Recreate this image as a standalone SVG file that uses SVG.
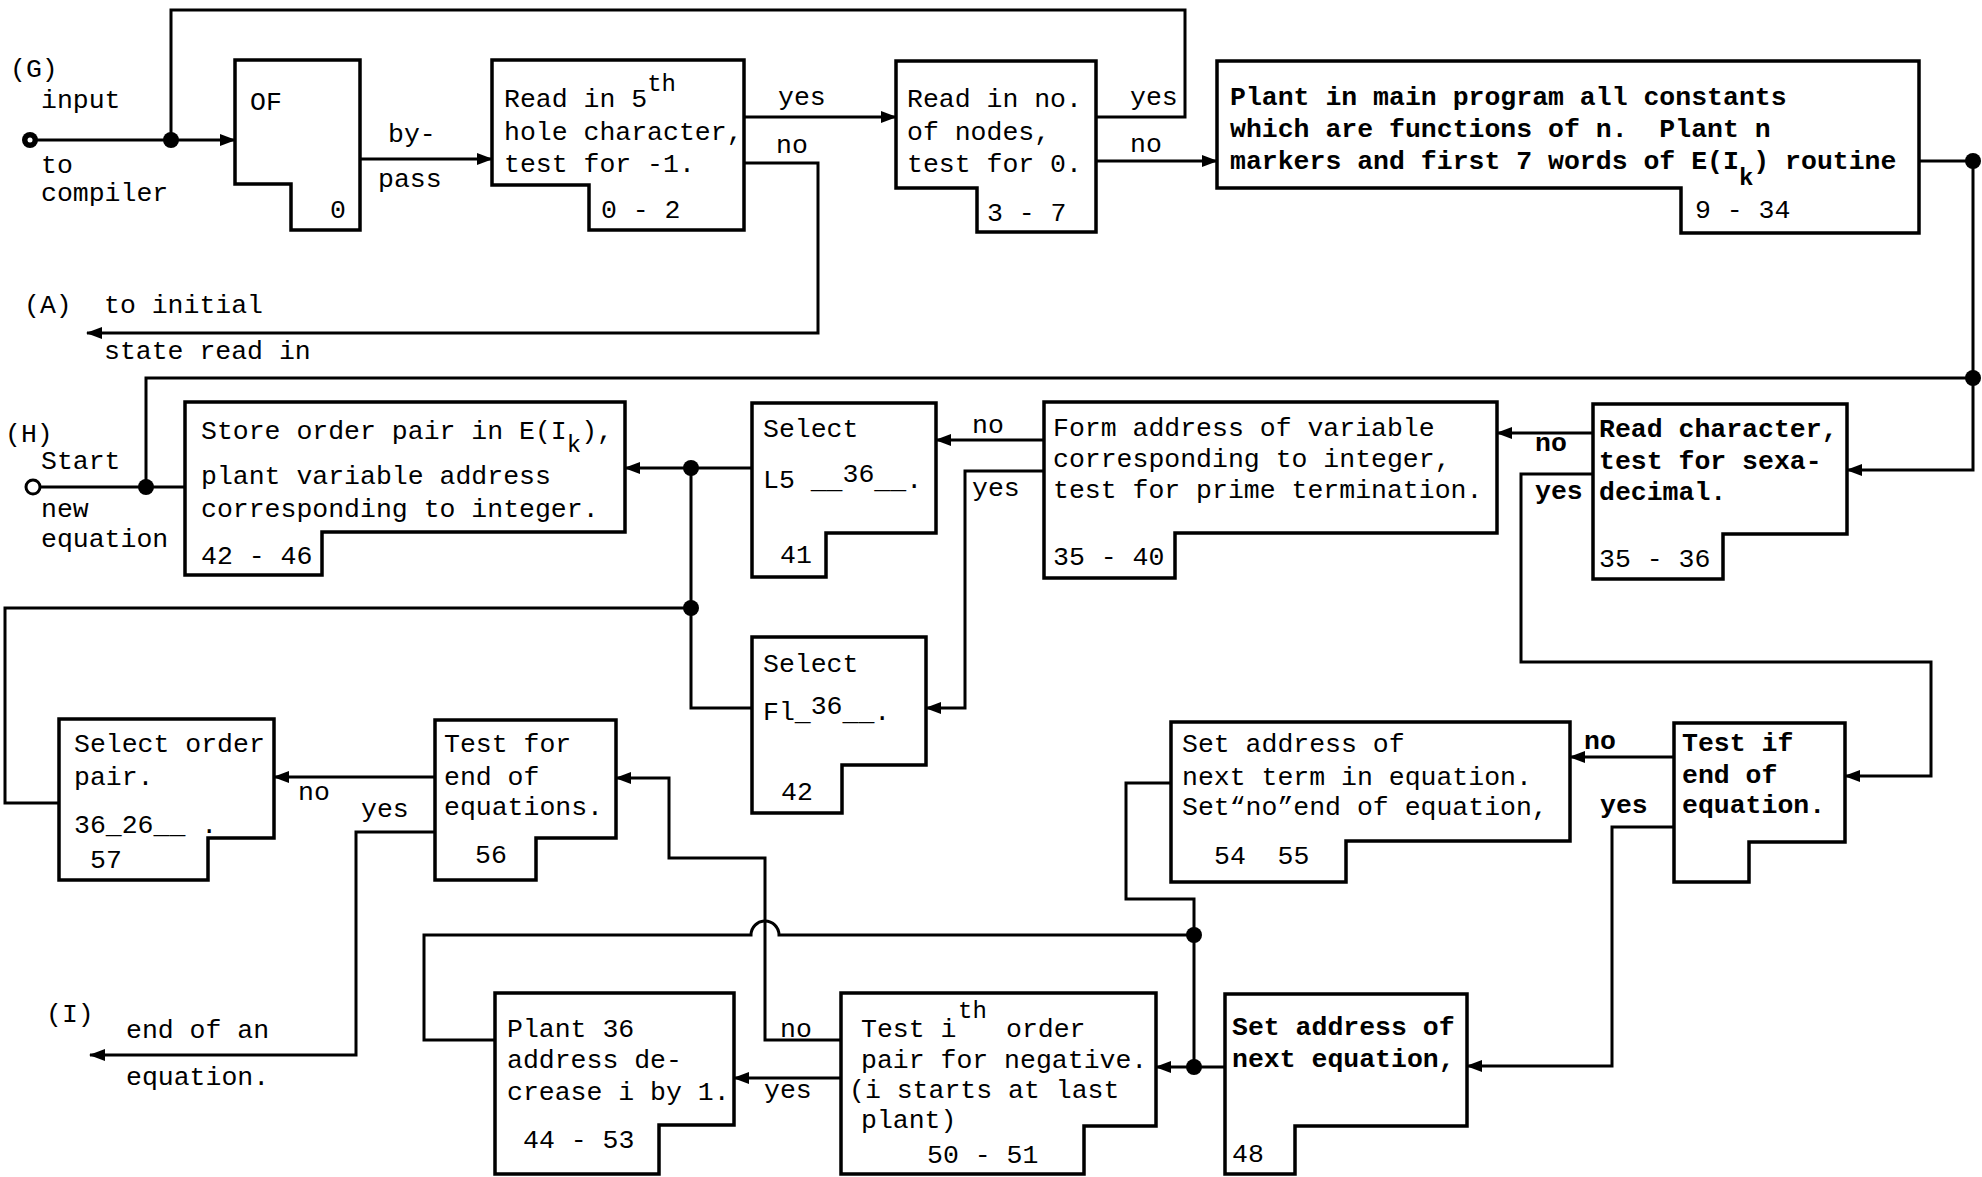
<svg xmlns="http://www.w3.org/2000/svg" width="1982" height="1177" viewBox="0 0 1982 1177">
<style>
.t{font-family:"Liberation Mono","DejaVu Sans Mono",monospace;font-size:26.5px;fill:#000;white-space:pre}
.b{font-weight:bold}
.sm{font-size:24px}
.box{fill:#fff;stroke:#000;stroke-width:3.5;stroke-linejoin:miter}
.ln{fill:none;stroke:#000;stroke-width:3;stroke-linejoin:miter}
.arr{marker-end:url(#ah)}
.dot{fill:#000}
</style>
<defs>
<marker id="ah" viewBox="0 0 16 12" refX="15" refY="6" markerWidth="16" markerHeight="12" markerUnits="userSpaceOnUse" orient="auto">
<path d="M0,0 L16,6 L0,12 z" fill="#000"/>
</marker>
</defs>
<rect width="1982" height="1177" fill="#fff"/>

<g id="connectors">
<polyline class="ln arr" points="37,140 235,140"/>
<polyline class="ln" points="1096,117 1185,117 1185,10 171,10 171,140"/>
<polyline class="ln arr" points="360,159 492,159"/>
<polyline class="ln arr" points="744,117 896,117"/>
<polyline class="ln arr" points="744,163 818,163 818,333 87,333"/>
<polyline class="ln arr" points="1096,161 1217,161"/>
<polyline class="ln arr" points="1919,161 1973,161 1973,470 1847,470"/>
<polyline class="ln" points="1973,378 146,378 146,487"/>
<polyline class="ln" points="40,487 185,487"/>
<polyline class="ln arr" points="1593,433 1497,433"/>
<polyline class="ln arr" points="1593,474 1521,474 1521,662 1931,662 1931,776 1845,776"/>
<polyline class="ln arr" points="1044,440 936,440"/>
<polyline class="ln arr" points="1044,471 965,471 965,708 926,708"/>
<polyline class="ln arr" points="752,468 625,468"/>
<polyline class="ln" points="752,708 691,708 691,468"/>
<polyline class="ln" points="59,803 5,803 5,608 691,608"/>
<polyline class="ln arr" points="1674,757 1570,757"/>
<polyline class="ln arr" points="1674,827 1612,827 1612,1066 1467,1066"/>
<polyline class="ln" points="1171,783 1126,783 1126,899 1194,899 1194,1067"/>
<polyline class="ln arr" points="1225,1067 1156,1067"/>
<path class="ln" d="M495,1040 H424 V935 H751 A14,14 0 0 1 779,935 H1194"/>
<polyline class="ln arr" points="841,1040 765,1040 765,858 669,858 669,778 616,778"/>
<polyline class="ln arr" points="841,1078 734,1078"/>
<polyline class="ln arr" points="435,777 274,777"/>
<polyline class="ln arr" points="435,832 356,832 356,1055 90,1055"/>
<circle cx="30" cy="140" r="8" fill="#000"/>
<circle cx="30" cy="140" r="2.5" fill="#fff"/>
<circle cx="33" cy="487" r="7" fill="#fff" stroke="#000" stroke-width="3"/>
<circle class="dot" cx="171" cy="140" r="8"/>
<circle class="dot" cx="1973" cy="161" r="8"/>
<circle class="dot" cx="1973" cy="378" r="8"/>
<circle class="dot" cx="146" cy="487" r="8"/>
<circle class="dot" cx="691" cy="468" r="8"/>
<circle class="dot" cx="691" cy="608" r="8"/>
<circle class="dot" cx="1194" cy="935" r="8"/>
<circle class="dot" cx="1194" cy="1067" r="8"/>
</g>

<g id="labels">
<text class="t" x="10" y="77">(G)</text>
<text class="t" x="41" y="108">input</text>
<text class="t" x="41" y="173">to</text>
<text class="t" x="41" y="201">compiler</text>
<text class="t" x="388" y="142">by-</text>
<text class="t" x="378" y="187">pass</text>
<text class="t" x="778" y="105">yes</text>
<text class="t" x="776" y="153">no</text>
<text class="t" x="1130" y="105">yes</text>
<text class="t" x="1130" y="152">no</text>
<text class="t" x="24" y="313">(A)</text>
<text class="t" x="104" y="313">to initial</text>
<text class="t" x="104" y="359">state read in</text>
<text class="t" x="5" y="442">(H)</text>
<text class="t" x="41" y="469">Start</text>
<text class="t" x="41" y="517">new</text>
<text class="t" x="41" y="547">equation</text>
<text class="t" x="972" y="433">no</text>
<text class="t" x="972" y="496">yes</text>
<text class="t b" x="1535" y="451">no</text>
<text class="t b" x="1535" y="499">yes</text>
<text class="t b" x="1584" y="749">no</text>
<text class="t b" x="1600" y="813">yes</text>
<text class="t" x="298" y="800">no</text>
<text class="t" x="361" y="817">yes</text>
<text class="t" x="780" y="1037">no</text>
<text class="t" x="764" y="1098">yes</text>
<text class="t" x="46" y="1022">(I)</text>
<text class="t" x="126" y="1038">end of an</text>
<text class="t" x="126" y="1085">equation.</text>
</g>

<g id="n-of">
<path class="box" d="M235,60 H360 V230 H291 V184 H235 Z"/>
<text class="t" x="250" y="110">OF</text>
<text class="t" x="330" y="218">0</text>
</g>

<g id="n-read5">
<path class="box" d="M492,60 H744 V230 H589 V185 H492 Z"/>
<text class="t" x="504" y="107">Read in 5<tspan class="sm" dy="-16">th</tspan></text>
<text class="t" x="504" y="140">hole character,</text>
<text class="t" x="504" y="172">test for -1.</text>
<text class="t" x="601" y="218">0 - 2</text>
</g>

<g id="n-nodes">
<path class="box" d="M896,61 H1096 V232 H977 V188 H896 Z"/>
<text class="t" x="907" y="107">Read in no.</text>
<text class="t" x="907" y="140">of nodes,</text>
<text class="t" x="907" y="172">test for 0.</text>
<text class="t" x="987" y="221">3 - 7</text>
</g>

<g id="n-plant-main">
<path class="box" d="M1217,61 H1919 V233 H1681 V188 H1217 Z"/>
<text class="t b" x="1230" y="105">Plant in main program all constants</text>
<text class="t b" x="1230" y="137">which are functions of n.  Plant n</text>
<text class="t b" x="1230" y="169">markers and first 7 words of E(I<tspan class="sm" dy="16">k</tspan><tspan dy="-16">) routine</tspan></text>
<text class="t" x="1695" y="218">9 - 34</text>
</g>

<g id="n-store">
<path class="box" d="M185,402 H625 V532 H322 V575 H185 Z"/>
<text class="t" x="201" y="439">Store order pair in E(I<tspan class="sm" dy="13">k</tspan><tspan dy="-13">),</tspan></text>
<text class="t" x="201" y="484">plant variable address</text>
<text class="t" x="201" y="517">corresponding to integer.</text>
<text class="t" x="201" y="564">42 - 46</text>
</g>

<g id="n-select-l5">
<path class="box" d="M752,403 H936 V533 H826 V577 H752 Z"/>
<text class="t" x="763" y="437">Select</text>
<text class="t" x="763" y="488">L5 __<tspan dy="-6">36</tspan><tspan dy="6">__.</tspan></text>
<text class="t" x="780" y="563">41</text>
</g>

<g id="n-form">
<path class="box" d="M1044,402 H1497 V533 H1175 V578 H1044 Z"/>
<text class="t" x="1053" y="436">Form address of variable</text>
<text class="t" x="1053" y="467">corresponding to integer,</text>
<text class="t" x="1053" y="498">test for prime termination.</text>
<text class="t" x="1053" y="565">35 - 40</text>
</g>

<g id="n-readchar">
<path class="box" d="M1593,404 H1847 V534 H1723 V579 H1593 Z"/>
<text class="t b" x="1599" y="437">Read character,</text>
<text class="t b" x="1599" y="469">test for sexa-</text>
<text class="t b" x="1599" y="500">decimal.</text>
<text class="t" x="1599" y="567">35 - 36</text>
</g>

<g id="n-select-fl">
<path class="box" d="M752,637 H926 V765 H842 V813 H752 Z"/>
<text class="t" x="763" y="672">Select</text>
<text class="t" x="763" y="720">Fl_<tspan dy="-6">36</tspan><tspan dy="6">__.</tspan></text>
<text class="t" x="781" y="800">42</text>
</g>

<g id="n-select-pair">
<path class="box" d="M59,719 H274 V838 H208 V880 H59 Z"/>
<text class="t" x="74" y="752">Select order</text>
<text class="t" x="74" y="785">pair.</text>
<text class="t" x="74" y="833">36_26__ .</text>
<text class="t" x="90" y="868">57</text>
</g>

<g id="n-test-end-eqs">
<path class="box" d="M435,720 H616 V838 H536 V880 H435 Z"/>
<text class="t" x="444" y="752">Test for</text>
<text class="t" x="444" y="785">end of</text>
<text class="t" x="444" y="815">equations.</text>
<text class="t" x="475" y="863">56</text>
</g>

<g id="n-next-term">
<path class="box" d="M1171,722 H1570 V841 H1346 V882 H1171 Z"/>
<text class="t" x="1182" y="752">Set address of</text>
<text class="t" x="1182" y="785">next term in equation.</text>
<text class="t" x="1182" y="815">Set“no”end of equation,</text>
<text class="t" x="1214" y="864">54  55</text>
</g>

<g id="n-test-if">
<path class="box" d="M1674,723 H1845 V842 H1749 V882 H1674 Z"/>
<text class="t b" x="1682" y="751">Test if</text>
<text class="t b" x="1682" y="783">end of</text>
<text class="t b" x="1682" y="813">equation.</text>
</g>

<g id="n-plant36">
<path class="box" d="M495,993 H734 V1125 H659 V1174 H495 Z"/>
<text class="t" x="507" y="1037">Plant 36</text>
<text class="t" x="507" y="1068">address de-</text>
<text class="t" x="507" y="1100">crease i by 1.</text>
<text class="t" x="523" y="1148">44 - 53</text>
</g>

<g id="n-test-ith">
<path class="box" d="M841,993 H1156 V1126 H1084 V1174 H841 Z"/>
<text class="t" x="861" y="1037">Test i</text>
<text class="t sm" x="958" y="1018">th</text>
<text class="t" x="1006" y="1037">order</text>
<text class="t" x="861" y="1068">pair for negative.</text>
<text class="t" x="849" y="1098">(i starts at last</text>
<text class="t" x="861" y="1128">plant)</text>
<text class="t" x="927" y="1163">50 - 51</text>
</g>

<g id="n-next-eq">
<path class="box" d="M1225,994 H1467 V1126 H1295 V1174 H1225 Z"/>
<text class="t b" x="1232" y="1035">Set address of</text>
<text class="t b" x="1232" y="1067">next equation,</text>
<text class="t" x="1232" y="1162">48</text>
</g>
</svg>
